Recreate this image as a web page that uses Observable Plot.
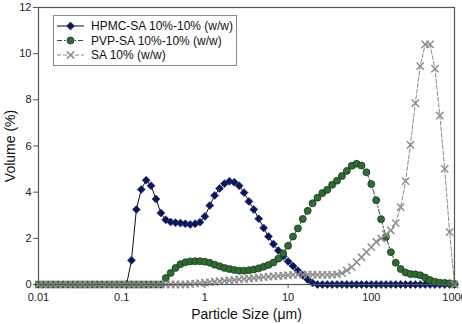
<!DOCTYPE html>
<html>
<head>
<meta charset="utf-8">
<script src="https://cdn.jsdelivr.net/npm/d3@7"></script>
<script src="https://cdn.jsdelivr.net/npm/@observablehq/plot@0.6"></script>
<style>
  html, body { margin: 0; padding: 0; background: #fff; }
  #wrap { position: relative; width: 462px; height: 324px; font-family: "Liberation Sans", Arial, sans-serif; }
  #wrap svg.legend-box { position: absolute; left: 53px; top: 15px; }
  g[aria-label="x-axis label"] text, g[aria-label="y-axis label"] text { font-size: 14px; fill: #111; }
</style>
</head>
<body>
<div id="wrap"></div>
<script>
// Particle size classes (µm), 17 per decade
const sizes = [
  0.01, 0.01145, 0.01311, 0.01501, 0.01719, 0.01968, 0.02254, 0.02581, 0.02955, 0.03384,
  0.03875, 0.04437, 0.0508, 0.05817, 0.06661, 0.07627, 0.08733, 0.1, 0.1145, 0.1311,
  0.1501, 0.1719, 0.1968, 0.2254, 0.2581, 0.2955, 0.3384, 0.3875, 0.4437, 0.508,
  0.5817, 0.6661, 0.7627, 0.8733, 1.0, 1.145, 1.311, 1.501, 1.719, 1.968,
  2.254, 2.581, 2.955, 3.384, 3.875, 4.437, 5.08, 5.817, 6.661, 7.627,
  8.733, 10, 11.45, 13.11, 15.01, 17.19, 19.68, 22.54, 25.81, 29.55,
  33.84, 38.75, 44.37, 50.8, 58.17, 66.61, 76.27, 87.33, 100, 114.5,
  131.1, 150.1, 171.9, 196.8, 225.4, 258.1, 295.5, 338.4, 387.5, 443.7,
  508, 581.7, 666.1, 762.7, 873.3, 1000
];

// Volume (%) per size class
const hpmc = [
  null, null, null, null, null, null, null, null, null, null,
  null, null, null, null, null, null, null, null, 0, 1.05,
  3.25, 4.12, 4.52, 4.28, 3.7, 3.1, 2.8, 2.71, 2.68, 2.66,
  2.63, 2.6, 2.63, 2.7, 2.95, 3.42, 3.86, 4.16, 4.37, 4.47,
  4.43, 4.28, 3.98, 3.6, 3.25, 2.85, 2.45, 2.08, 1.75, 1.47,
  1.22, 1.0, 0.8, 0.6, 0.4, 0.22, 0.07, 0, 0, 0,
  0, 0, 0, 0, 0, 0, 0, 0, 0, 0,
  0, 0, 0, 0, 0, 0, 0, 0, 0, 0,
  0, 0, 0, 0, 0, 0
];
const pvp = [
  0, 0, 0, 0, 0, 0, 0, 0, 0, 0,
  0, 0, 0, 0, 0, 0, 0, 0, 0, 0,
  0, 0, 0, 0, 0, 0, 0.28, 0.5, 0.72, 0.88,
  0.96, 1.0, 1.01, 1.01, 0.99, 0.94, 0.86, 0.79, 0.72, 0.67,
  0.63, 0.6, 0.6, 0.62, 0.65, 0.7, 0.77, 0.85, 0.95, 1.12,
  1.35, 1.68, 2.08, 2.43, 2.84, 3.19, 3.52, 3.76, 3.96, 4.1,
  4.32, 4.5, 4.7, 4.92, 5.14, 5.23, 5.15, 4.86, 4.35, 3.65,
  2.83, 2.06, 1.4, 0.94, 0.67, 0.52, 0.45, 0.44, 0.4, 0.3,
  0.19, 0.12, 0.08, 0.07, 0.05, 0.02
];
const sa = [
  0, 0, 0, 0, 0, 0, 0, 0, 0, 0,
  0, 0, 0, 0, 0, 0, 0, 0, 0, 0,
  0, 0, 0, 0, 0, 0, 0, 0, 0, 0,
  0, 0.02, 0.04, 0.06, 0.08, 0.1, 0.12, 0.14, 0.16, 0.18,
  0.2, 0.22, 0.24, 0.26, 0.28, 0.3, 0.32, 0.34, 0.35, 0.37,
  0.38, 0.4, 0.42, 0.43, 0.43, 0.43, 0.43, 0.42, 0.42, 0.42,
  0.42, 0.44, 0.49, 0.61, 0.75, 0.97, 1.18, 1.4, 1.62, 1.85,
  2.0, 2.17, 2.34, 2.66, 3.35, 4.48, 6.05, 7.86, 9.46, 10.4,
  10.4, 9.35, 7.32, 5.01, 2.27, 0
];

const seriesNames = ["HPMC-SA 10%-10% (w/w)", "PVP-SA 10%-10% (w/w)", "SA 10% (w/w)"];
const xTicks = [0.01, 0.1, 1, 10, 100, 1000];
const xTickLabels = ["0.01", "0.1", "1", "10", "100", "1000"];
const yTicks = [0, 2, 4, 6, 8, 10, 12];

// Label lookup for the decade ticks
const xLabelFor = d => {
  const i = xTicks.findIndex(t => Math.abs(Math.log10(t) - Math.log10(d)) < 1e-6);
  return i >= 0 ? xTickLabels[i] : "";
};

const rows = (vals, name) =>
  sizes.map((s, i) => ({size: s, v: vals[i], series: name})).filter(d => d.v != null);

const dHpmc = rows(hpmc, seriesNames[0]);
const dPvp = rows(pvp, seriesNames[1]);
const dSa = rows(sa, seriesNames[2]);

// Per-series drawing styles
const styles = [
  {line: {stroke: "#111", strokeWidth: 1}, dot: {symbol: "diamond2", r: 3.6, fill: "#0c1650", stroke: "#26388f", strokeWidth: 0.7}},
  {line: {stroke: "#444", strokeWidth: 1, strokeDasharray: "5,2,1.5,2"}, dot: {symbol: "circle", r: 3.5, fill: "#2f6b33", stroke: "#1a3a1d", strokeWidth: 0.8}},
  {line: {stroke: "#8a8a8a", strokeWidth: 1, strokeDasharray: "4,2"}, dot: {symbol: "times", r: 3.4, fill: "none", stroke: "#8e8e8e", strokeWidth: 1.5}}
];

const chart = Plot.plot({
  width: 462,
  height: 324,
  marginLeft: 38,
  marginRight: 8,
  marginTop: 7,
  marginBottom: 40,
  style: {fontFamily: "'Liberation Sans', Arial, sans-serif", fontSize: "11px", color: "#222", background: "#fff"},
  x: {type: "log", domain: [0.01, 1000]},
  y: {domain: [0, 12]},
  marks: [
    Plot.axisX(xTicks, {tickFormat: xLabelFor, tickSize: 4, tickPadding: 5,
      label: "Particle Size (μm)", labelAnchor: "center", labelOffset: 34, labelArrow: "none", stroke: "#555"}),
    Plot.axisY(yTicks, {tickSize: 5, tickPadding: 2,
      label: "Volume (%)", labelAnchor: "center", labelOffset: 33, labelArrow: "none", stroke: "#555"}),
    Plot.line(dHpmc, {x: "size", y: "v", ...styles[0].line}),
    Plot.dot(dHpmc, {x: "size", y: "v", ...styles[0].dot}),
    Plot.line(dPvp, {x: "size", y: "v", ...styles[1].line}),
    Plot.dot(dPvp, {x: "size", y: "v", ...styles[1].dot}),
    Plot.line(dSa, {x: "size", y: "v", ...styles[2].line}),
    Plot.dot(dSa, {x: "size", y: "v", ...styles[2].dot}),
    Plot.frame({stroke: "#555", strokeWidth: 1.2})
  ]
});

const wrap = document.getElementById("wrap");
wrap.appendChild(chart);

// Legend box in the upper-left of the plot area
const lw = 184, lh = 51;
const leg = d3.select(wrap).append("svg")
  .attr("class", "legend-box")
  .attr("width", lw).attr("height", lh);
leg.append("rect")
  .attr("x", 0.5).attr("y", 0.5).attr("width", lw - 1).attr("height", lh - 1)
  .attr("fill", "#fff").attr("stroke", "#888").attr("stroke-width", 1);

const symbolOf = {diamond2: d3.symbolDiamond2, circle: d3.symbolCircle, times: d3.symbolTimes};
seriesNames.forEach((name, i) => {
  const cy = 11 + i * 14.5;
  const st = styles[i];
  const g = leg.append("g");
  g.append("line")
    .attr("x1", 4).attr("x2", 31).attr("y1", cy).attr("y2", cy)
    .attr("stroke", st.line.stroke).attr("stroke-width", st.line.strokeWidth)
    .attr("stroke-dasharray", st.line.strokeDasharray || null);
  g.append("path")
    .attr("transform", `translate(17.5,${cy})`)
    .attr("d", d3.symbol(symbolOf[st.dot.symbol], st.dot.r * st.dot.r * Math.PI)())
    .attr("fill", st.dot.fill).attr("stroke", st.dot.stroke).attr("stroke-width", st.dot.strokeWidth);
  g.append("text")
    .attr("x", 38).attr("y", cy).attr("dy", "0.36em")
    .attr("font-size", 12).attr("fill", "#111")
    .attr("font-family", "'Liberation Sans', Arial, sans-serif")
    .text(name);
});
</script>
</body>
</html>
